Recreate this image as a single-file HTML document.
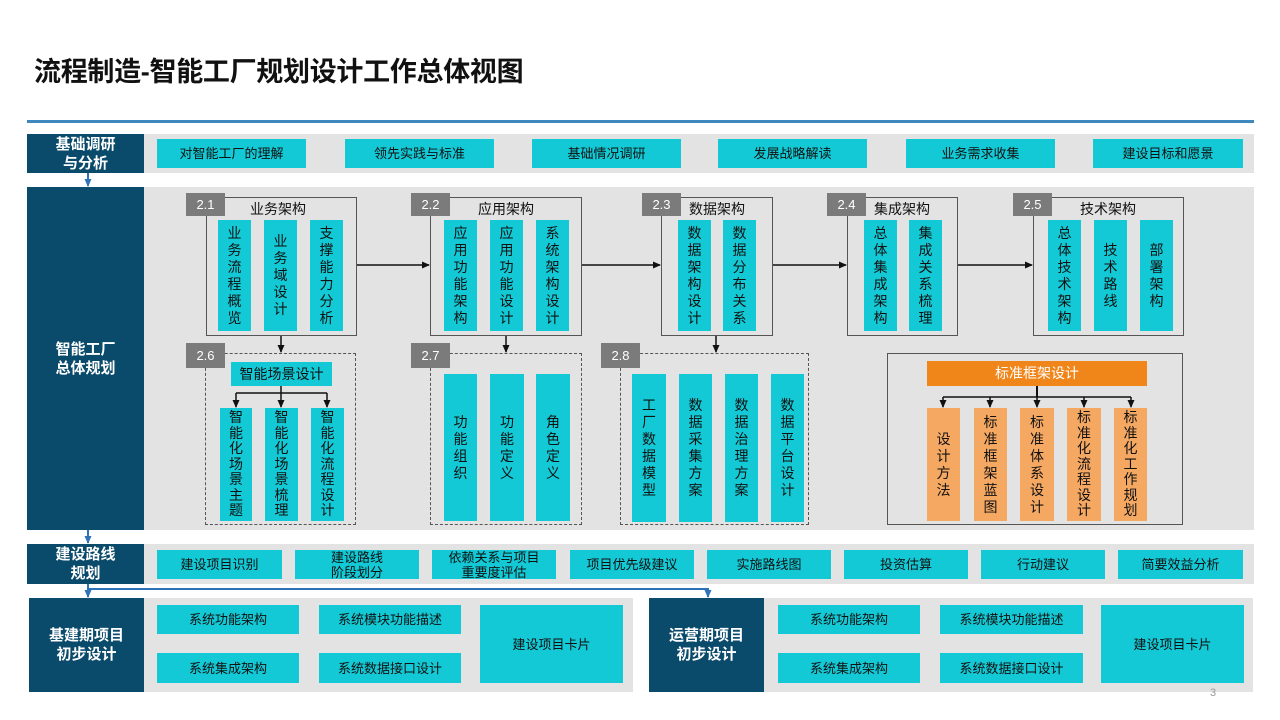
<!DOCTYPE html>
<html><head><meta charset="utf-8"><style>
*{margin:0;padding:0;box-sizing:border-box}
body{width:1280px;height:720px;background:#fff;position:relative;overflow:hidden;font-family:"Liberation Sans","Noto Sans CJK SC",sans-serif;color:#111}
.a{position:absolute}
.dk{position:absolute;background:#0a4a6b;color:#fff;font-weight:bold;font-size:15px;line-height:19px;display:flex;align-items:center;justify-content:center;text-align:center}
.gr{position:absolute;background:#e3e3e3}
.c{position:absolute;background:#12c9d5;color:#111;font-size:13px;line-height:15px;display:flex;align-items:center;justify-content:center;text-align:center}
.v{position:absolute;background:#12c9d5;color:#111;font-size:14px;line-height:17px;display:flex;align-items:center;justify-content:center;text-align:center;flex-direction:column}
.v7{line-height:15.5px}
.o{background:#f5a862}
.lb{position:absolute;background:#7b7b7b;color:#fff;font-size:13px;display:flex;align-items:center;justify-content:center}
.bx{position:absolute;border:1.3px solid #555}
.ds{position:absolute;border:1px dashed #555}
.t{position:absolute;font-size:14px;line-height:16px}
</style></head><body>
<div class="a" style="left:34px;top:55px;font-size:27px;font-weight:bold;line-height:34px;letter-spacing:-0.3px">流程制造-智能工厂规划设计工作总体视图</div>
<div class="a" style="left:27px;top:120px;width:1227px;height:3px;background:#3f87bf"></div>

<!-- Row 1 -->
<div class="dk" style="left:27px;top:134px;width:117px;height:39px">基础调研<br>与分析</div>
<div class="gr" style="left:144px;top:134px;width:1110px;height:39px"></div>
<div class="c" style="left:157px;top:139px;width:149px;height:29px">对智能工厂的理解</div>
<div class="c" style="left:345px;top:139px;width:149px;height:29px">领先实践与标准</div>
<div class="c" style="left:532px;top:139px;width:149px;height:29px">基础情况调研</div>
<div class="c" style="left:718px;top:139px;width:149px;height:29px">发展战略解读</div>
<div class="c" style="left:906px;top:139px;width:149px;height:29px">业务需求收集</div>
<div class="c" style="left:1093px;top:139px;width:150px;height:29px">建设目标和愿景</div>

<!-- Row 2 -->
<div class="dk" style="left:27px;top:187px;width:117px;height:343px">智能工厂<br>总体规划</div>
<div class="gr" style="left:144px;top:187px;width:1110px;height:343px"></div>

<!-- 2.1 -->
<div class="bx" style="left:206px;top:197px;width:151px;height:139px"></div>
<div class="lb" style="left:186px;top:193px;width:39px;height:23px">2.1</div>
<div class="t" style="left:250px;top:201px">业务架构</div>
<div class="v" style="left:218px;top:220px;width:33px;height:111px">业<br>务<br>流<br>程<br>概<br>览</div>
<div class="v" style="left:264px;top:220px;width:33px;height:111px">业<br>务<br>域<br>设<br>计</div>
<div class="v" style="left:310px;top:220px;width:33px;height:111px">支<br>撑<br>能<br>力<br>分<br>析</div>
<!-- 2.2 -->
<div class="bx" style="left:430px;top:197px;width:152px;height:139px"></div>
<div class="lb" style="left:411px;top:193px;width:39px;height:23px">2.2</div>
<div class="t" style="left:478px;top:201px">应用架构</div>
<div class="v" style="left:444px;top:220px;width:33px;height:111px">应<br>用<br>功<br>能<br>架<br>构</div>
<div class="v" style="left:490px;top:220px;width:33px;height:111px">应<br>用<br>功<br>能<br>设<br>计</div>
<div class="v" style="left:536px;top:220px;width:33px;height:111px">系<br>统<br>架<br>构<br>设<br>计</div>
<!-- 2.3 -->
<div class="bx" style="left:661px;top:197px;width:112px;height:139px"></div>
<div class="lb" style="left:642px;top:193px;width:39px;height:23px">2.3</div>
<div class="t" style="left:689px;top:201px">数据架构</div>
<div class="v" style="left:678px;top:220px;width:33px;height:111px">数<br>据<br>架<br>构<br>设<br>计</div>
<div class="v" style="left:723px;top:220px;width:33px;height:111px">数<br>据<br>分<br>布<br>关<br>系</div>
<!-- 2.4 -->
<div class="bx" style="left:847px;top:197px;width:111px;height:139px"></div>
<div class="lb" style="left:827px;top:193px;width:39px;height:23px">2.4</div>
<div class="t" style="left:874px;top:201px">集成架构</div>
<div class="v" style="left:864px;top:220px;width:33px;height:111px">总<br>体<br>集<br>成<br>架<br>构</div>
<div class="v" style="left:909px;top:220px;width:33px;height:111px">集<br>成<br>关<br>系<br>梳<br>理</div>
<!-- 2.5 -->
<div class="bx" style="left:1033px;top:197px;width:151px;height:139px"></div>
<div class="lb" style="left:1013px;top:193px;width:39px;height:23px">2.5</div>
<div class="t" style="left:1080px;top:201px">技术架构</div>
<div class="v" style="left:1048px;top:220px;width:33px;height:111px">总<br>体<br>技<br>术<br>架<br>构</div>
<div class="v" style="left:1094px;top:220px;width:33px;height:111px">技<br>术<br>路<br>线</div>
<div class="v" style="left:1140px;top:220px;width:33px;height:111px">部<br>署<br>架<br>构</div>

<!-- 2.6 -->
<div class="ds" style="left:205px;top:353px;width:151px;height:172px"></div>
<div class="lb" style="left:186px;top:343px;width:39px;height:25px">2.6</div>
<div class="c" style="left:231px;top:362px;width:101px;height:24px;font-size:14px">智能场景设计</div>
<div class="v v7" style="left:220px;top:408px;width:32px;height:113px">智<br>能<br>化<br>场<br>景<br>主<br>题</div>
<div class="v v7" style="left:265px;top:408px;width:33px;height:113px">智<br>能<br>化<br>场<br>景<br>梳<br>理</div>
<div class="v v7" style="left:311px;top:408px;width:33px;height:113px">智<br>能<br>化<br>流<br>程<br>设<br>计</div>
<!-- 2.7 -->
<div class="ds" style="left:430px;top:353px;width:152px;height:172px"></div>
<div class="lb" style="left:411px;top:343px;width:39px;height:25px">2.7</div>
<div class="v" style="left:444px;top:374px;width:33px;height:147px">功<br>能<br>组<br>织</div>
<div class="v" style="left:490px;top:374px;width:34px;height:147px">功<br>能<br>定<br>义</div>
<div class="v" style="left:536px;top:374px;width:34px;height:147px">角<br>色<br>定<br>义</div>
<!-- 2.8 -->
<div class="ds" style="left:620px;top:353px;width:189px;height:172px"></div>
<div class="lb" style="left:601px;top:343px;width:39px;height:25px">2.8</div>
<div class="v" style="left:632px;top:374px;width:34px;height:148px">工<br>厂<br>数<br>据<br>模<br>型</div>
<div class="v" style="left:679px;top:374px;width:33px;height:148px">数<br>据<br>采<br>集<br>方<br>案</div>
<div class="v" style="left:725px;top:374px;width:33px;height:148px">数<br>据<br>治<br>理<br>方<br>案</div>
<div class="v" style="left:771px;top:374px;width:33px;height:148px">数<br>据<br>平<br>台<br>设<br>计</div>
<!-- standard -->
<div class="bx" style="left:887px;top:353px;width:296px;height:172px"></div>
<div class="c" style="left:927px;top:361px;width:220px;height:25px;background:#f0861a;color:#fff;font-size:14px">标准框架设计</div>
<div class="v o" style="left:927px;top:408px;width:33px;height:113px">设<br>计<br>方<br>法</div>
<div class="v o" style="left:974px;top:408px;width:33px;height:113px">标<br>准<br>框<br>架<br>蓝<br>图</div>
<div class="v o" style="left:1020px;top:408px;width:34px;height:113px">标<br>准<br>体<br>系<br>设<br>计</div>
<div class="v o v7" style="left:1067px;top:408px;width:34px;height:113px">标<br>准<br>化<br>流<br>程<br>设<br>计</div>
<div class="v o v7" style="left:1114px;top:408px;width:33px;height:113px">标<br>准<br>化<br>工<br>作<br>规<br>划</div>

<!-- Row 3 -->
<div class="dk" style="left:27px;top:544px;width:117px;height:40px">建设路线<br>规划</div>
<div class="gr" style="left:144px;top:544px;width:1110px;height:40px"></div>
<div class="c" style="left:157px;top:550px;width:125px;height:29px">建设项目识别</div>
<div class="c" style="left:295px;top:550px;width:124px;height:29px">建设路线<br>阶段划分</div>
<div class="c" style="left:432px;top:550px;width:124px;height:29px">依赖关系与项目<br>重要度评估</div>
<div class="c" style="left:570px;top:550px;width:124px;height:29px">项目优先级建议</div>
<div class="c" style="left:707px;top:550px;width:124px;height:29px">实施路线图</div>
<div class="c" style="left:844px;top:550px;width:124px;height:29px">投资估算</div>
<div class="c" style="left:981px;top:550px;width:124px;height:29px">行动建议</div>
<div class="c" style="left:1118px;top:550px;width:125px;height:29px">简要效益分析</div>

<!-- Row 4 -->
<div class="dk" style="left:29px;top:598px;width:115px;height:94px">基建期项目<br>初步设计</div>
<div class="gr" style="left:144px;top:598px;width:489px;height:94px"></div>
<div class="c" style="left:157px;top:605px;width:142px;height:29px">系统功能架构</div>
<div class="c" style="left:319px;top:605px;width:142px;height:29px">系统模块功能描述</div>
<div class="c" style="left:157px;top:653px;width:142px;height:30px">系统集成架构</div>
<div class="c" style="left:319px;top:653px;width:142px;height:30px">系统数据接口设计</div>
<div class="c" style="left:480px;top:605px;width:143px;height:78px">建设项目卡片</div>

<div class="dk" style="left:649px;top:598px;width:115px;height:94px">运营期项目<br>初步设计</div>
<div class="gr" style="left:764px;top:598px;width:489px;height:94px"></div>
<div class="c" style="left:778px;top:605px;width:142px;height:29px">系统功能架构</div>
<div class="c" style="left:940px;top:605px;width:143px;height:29px">系统模块功能描述</div>
<div class="c" style="left:778px;top:653px;width:142px;height:30px">系统集成架构</div>
<div class="c" style="left:940px;top:653px;width:143px;height:30px">系统数据接口设计</div>
<div class="c" style="left:1101px;top:605px;width:143px;height:78px">建设项目卡片</div>

<div class="a" style="left:1210px;top:687px;font-size:11px;color:#999">3</div>

<svg class="a" style="left:0;top:0" width="1280" height="720">
<defs>
<marker id="k" markerWidth="8" markerHeight="8" refX="7" refY="4" orient="auto" markerUnits="userSpaceOnUse"><path d="M0,0.5 L8,4 L0,7.5z" fill="#111"/></marker>
<marker id="b" markerWidth="8" markerHeight="8" refX="7" refY="4" orient="auto" markerUnits="userSpaceOnUse"><path d="M0,0.5 L8,4 L0,7.5z" fill="#2f72b8"/></marker>
</defs>
<g stroke="#111" stroke-width="1.5" fill="none">
<line x1="357" y1="265" x2="429" y2="265" marker-end="url(#k)"/>
<line x1="582" y1="265" x2="660" y2="265" marker-end="url(#k)"/>
<line x1="773" y1="265" x2="846" y2="265" marker-end="url(#k)"/>
<line x1="958" y1="265" x2="1032" y2="265" marker-end="url(#k)"/>
<line x1="281" y1="336" x2="281" y2="352" marker-end="url(#k)"/>
<line x1="506" y1="336" x2="506" y2="352" marker-end="url(#k)"/>
<line x1="716" y1="336" x2="716" y2="352" marker-end="url(#k)"/>
<line x1="281" y1="386" x2="281" y2="393"/>
<line x1="236" y1="393" x2="327" y2="393"/>
<line x1="236" y1="393" x2="236" y2="407" marker-end="url(#k)"/>
<line x1="281" y1="393" x2="281" y2="407" marker-end="url(#k)"/>
<line x1="327" y1="393" x2="327" y2="407" marker-end="url(#k)"/>
<line x1="1037" y1="386" x2="1037" y2="397" stroke-width="2"/>
<line x1="943" y1="397" x2="1131" y2="397"/>
<line x1="943" y1="397" x2="943" y2="407" marker-end="url(#k)"/>
<line x1="990" y1="397" x2="990" y2="407" marker-end="url(#k)"/>
<line x1="1037" y1="397" x2="1037" y2="407" marker-end="url(#k)"/>
<line x1="1084" y1="397" x2="1084" y2="407" marker-end="url(#k)"/>
<line x1="1131" y1="397" x2="1131" y2="407" marker-end="url(#k)"/>
</g>
<g stroke="#2f72b8" stroke-width="2" fill="none">
<line x1="88" y1="173" x2="88" y2="186" marker-end="url(#b)"/>
<line x1="88" y1="530" x2="88" y2="543" marker-end="url(#b)"/>
<line x1="88" y1="584" x2="88" y2="597" marker-end="url(#b)"/>
<polyline points="88,589 708,589 708,597" marker-end="url(#b)"/>
</g>
</svg>
</body></html>
